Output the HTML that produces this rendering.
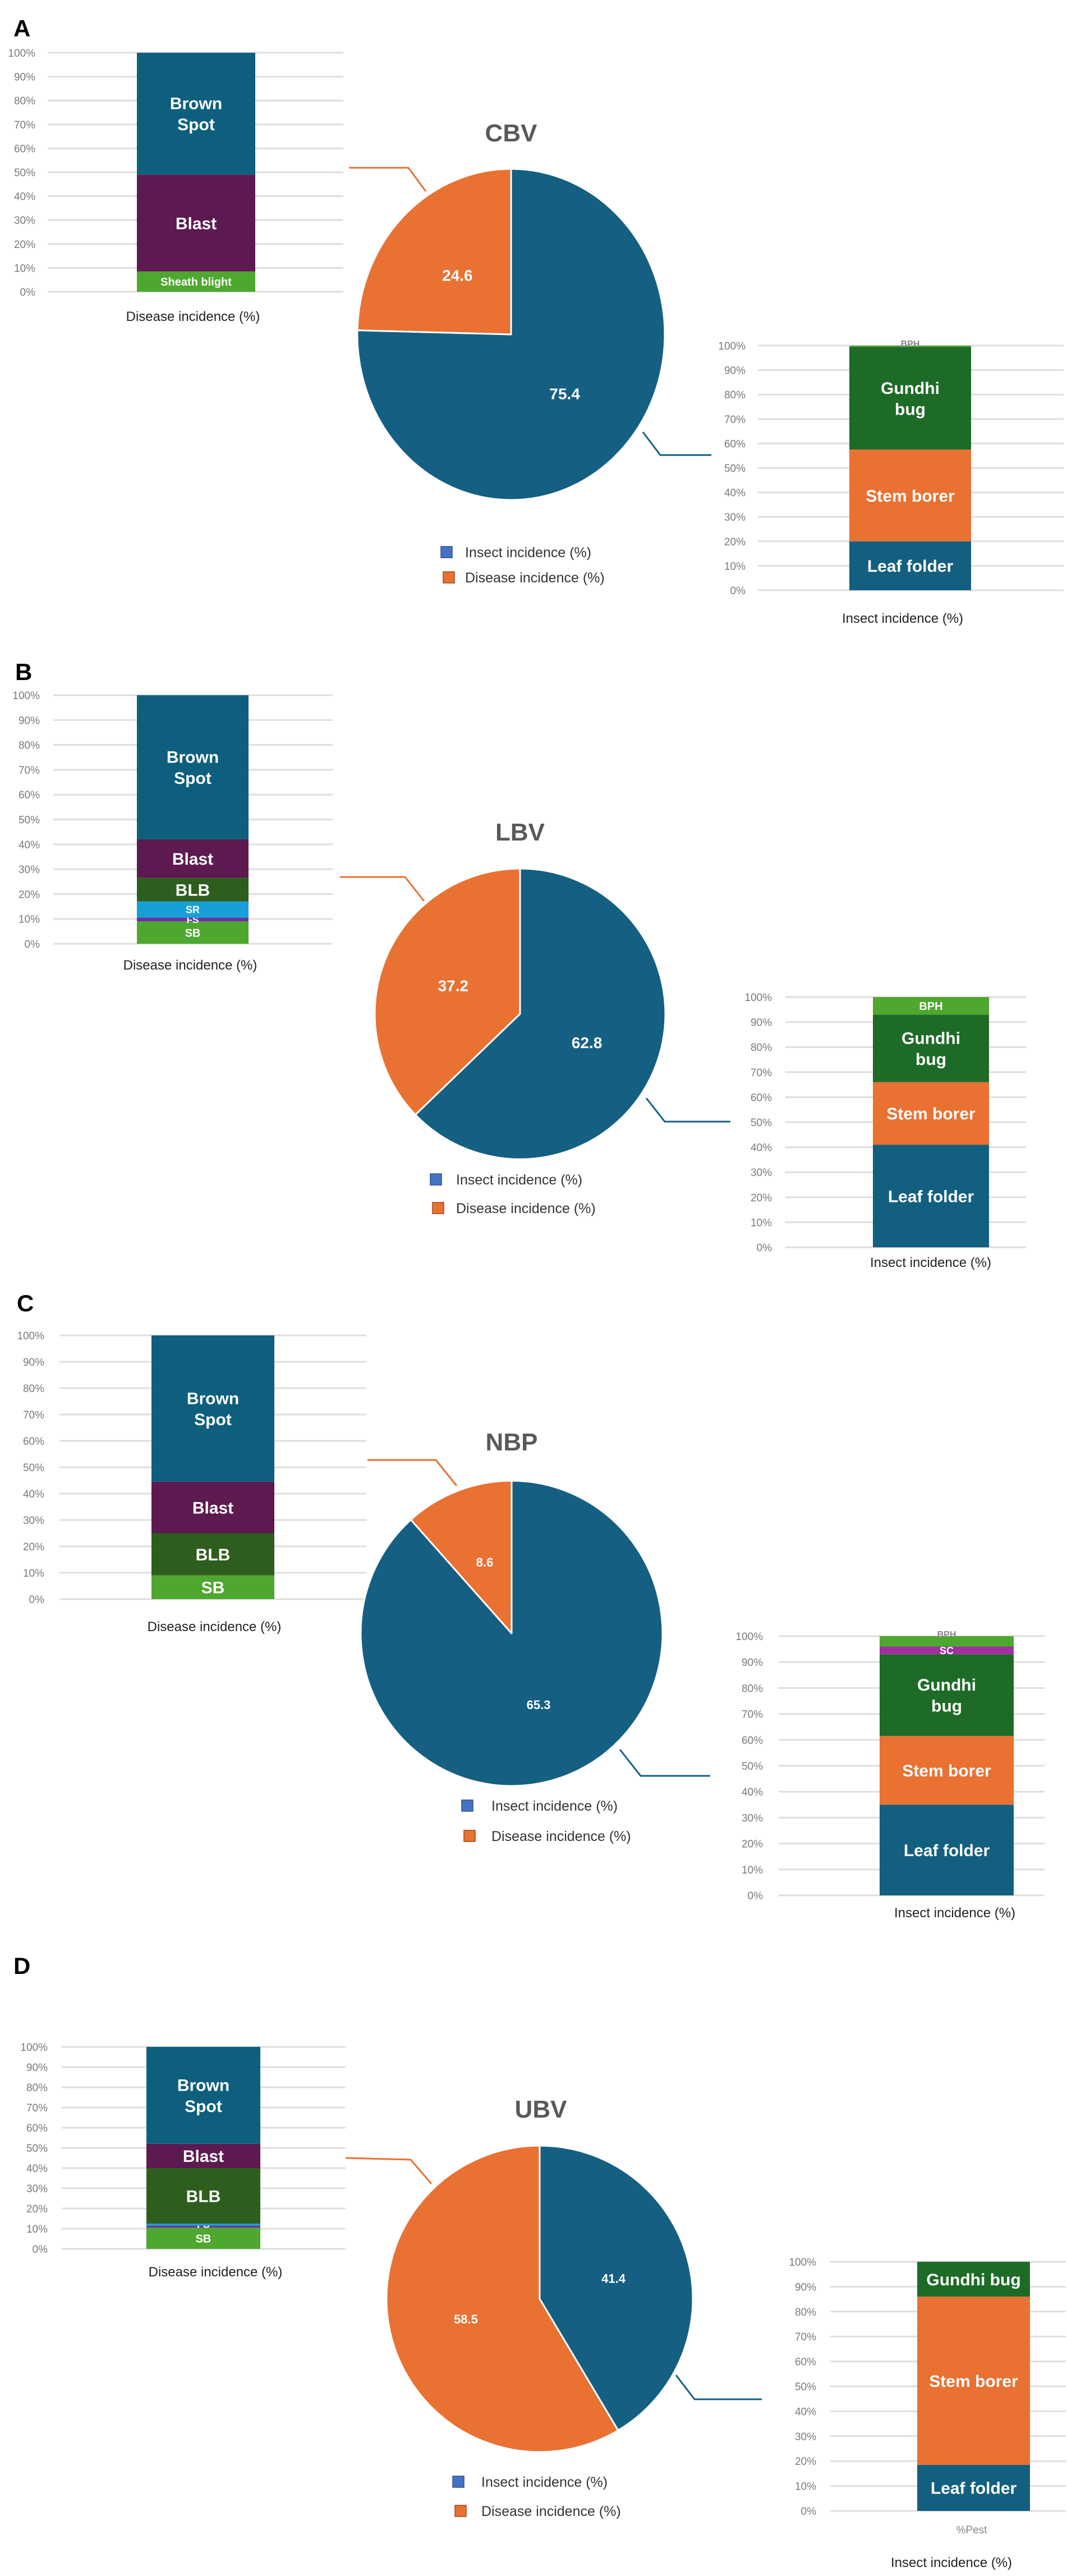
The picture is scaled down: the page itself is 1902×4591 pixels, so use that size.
<!DOCTYPE html>
<html><head><meta charset="utf-8"><style>
html,body{margin:0;padding:0;background:#fff;}
svg{display:block;font-family:"Liberation Sans",sans-serif;}
</style></head>
<body>
<svg id="fig" width="1902" height="4591" viewBox="0 0 1902 4591" xmlns="http://www.w3.org/2000/svg"></svg>
<script>
// ---------- data ----------
const panelLetters = ["A","B","C","D"];
const pieTitles = ["CBV","LBV","NBP","UBV"];
const insectPie = [75.4, 62.8, 65.3, 41.4];
const diseasePie = [24.6, 37.2, 8.6, 58.5];

const diseaseCatsA = ["Sheath blight","Blast","Brown Spot"];
const diseaseValsA = [8.5, 40.5, 51];
const diseaseCatsB = ["SB","FS","SR","BLB","Blast","Brown Spot"];
const diseaseValsB = [9, 1.5, 6.5, 9.5, 15.5, 58];
const diseaseCatsC = ["SB","BLB","Blast","Brown Spot"];
const diseaseValsC = [9, 16, 19.5, 55.5];
const diseaseCatsD = ["SB","FS","SR","BLB","Blast","Brown Spot"];
const diseaseValsD = [10.5, 1, 1, 27.5, 12, 48];

const insectCatsA = ["Leaf folder","Stem borer","Gundhi bug","BPH"];
const insectValsA = [20, 37.5, 42, 0.5];
const insectCatsB = ["Leaf folder","Stem borer","Gundhi bug","BPH"];
const insectValsB = [41, 25, 27, 7];
const insectCatsC = ["Leaf folder","Stem borer","Gundhi bug","SC","BPH"];
const insectValsC = [35, 26.5, 31.5, 3, 4];
const insectCatsD = ["Leaf folder","Stem borer","Gundhi bug"];
const insectValsD = [18.5, 67.5, 14];

const tickLabels = ["0%","10%","20%","30%","40%","50%","60%","70%","80%","90%","100%"];

// ---------- layout ----------
const COLORS = {"Brown Spot":"#0e5f7e","Blast":"#5c1a50","Sheath blight":"#4ea72e","SB":"#4ea72e","FS":"#7030a0","SR":"#17a0d8","BLB":"#2e5e1e",
 "Leaf folder":"#135f80","Stem borer":"#e97132","Gundhi bug":"#1e6b27","BPH":"#4ea72e","SC":"#a02fa0"};
const panels = [
 {letter:[24,50], left:{gx0:85,gx1:612,y100:94,y0:520,bx0:244,bx1:455,tx:63,title:[344,572]},
  pie:{cx:911,cy:596,rx:274,ry:295,title:[911,252],fs:28}, lo:[[622,299],[728,299],[759,341]], lb:[[1146,770],[1177,811],[1268,811]],
  leg:[796,984,829,1029], right:{gx0:1351,gx1:1896,y100:616,y0:1052,bx0:1514,bx1:1731,tx:1329,title:[1609,1110]}},
 {letter:[27,1197], left:{gx0:95,gx1:593,y100:1239,y0:1682,bx0:244,bx1:443,tx:71,title:[339,1728]},
  pie:{cx:927,cy:1807,rx:259,ry:259,title:[927,1498],fs:28}, lo:[[606,1563],[722,1563],[756,1606]], lb:[[1152,1957],[1185,1999],[1302,1999]],
  leg:[777,2102,813,2153], right:{gx0:1400,gx1:1829,y100:1777,y0:2223,bx0:1556,bx1:1763,tx:1376,title:[1659,2258]}},
 {letter:[30,2322], left:{gx0:106,gx1:653,y100:2380,y0:2850,bx0:270,bx1:489,tx:79,title:[382,2907]},
  pie:{cx:912,cy:2911,rx:269,ry:272,title:[912,2585],fs:22}, lo:[[655,2602],[777,2602],[814,2648]], lb:[[1105,3118],[1142,3165],[1266,3165]],
  leg:[833,3218,876,3272], right:{gx0:1388,gx1:1862,y100:2916,y0:3378,bx0:1568,bx1:1807,tx:1360,title:[1702,3417]}},
 {letter:[24,3503], left:{gx0:110,gx1:616,y100:3648,y0:4008,bx0:261,bx1:464,tx:85,title:[384,4057]},
  pie:{cx:962,cy:4097,rx:273,ry:273,title:[964,3774],fs:22}, lo:[[616,3846],[732,3849],[769,3892]], lb:[[1205,4233],[1238,4276],[1358,4276]],
  leg:[817,4423,858,4475], right:{gx0:1480,gx1:1900,y100:4031,y0:4475,bx0:1635,bx1:1836,tx:1455,title:[1696,4575]}}
];
const diseaseCats=[diseaseCatsA,diseaseCatsB,diseaseCatsC,diseaseCatsD];
const diseaseVals=[diseaseValsA,diseaseValsB,diseaseValsC,diseaseValsD];
const insectCats=[insectCatsA,insectCatsB,insectCatsC,insectCatsD];
const insectVals=[insectValsA,insectValsB,insectValsC,insectValsD];

const NS="http://www.w3.org/2000/svg";
const svg=document.getElementById("fig");
function mk(tag,attrs,parent,text){const e=document.createElementNS(NS,tag);for(const k in attrs)e.setAttribute(k,attrs[k]);if(text!==undefined)e.textContent=text;(parent||svg).appendChild(e);return e;}

function stackedBar(g,L,cats,vals,titleText,isInsect,pi){
  const yS=v=>L.y0-(L.y100-L.y0)*(-v/100);
  for(let i=0;i<tickLabels.length;i++){
    const y=yS(i*10);
    const gl=mk("line",{x1:L.gx0,x2:L.gx1,y1:y,y2:y,stroke:"#dedede","stroke-width":3},g);
    
    
    const t=mk("text",{x:L.tx,y:y+7,"text-anchor":"end","font-size":19,fill:"#7a7a7a"},g,tickLabels[i]);
    
    
  }
  let acc=0;
  const cx=(L.bx0+L.bx1)/2;
  for(let i=0;i<cats.length;i++){
    const y1=yS(acc), y2=yS(acc+vals[i]);
    const r=mk("rect",{x:L.bx0,y:y2,width:L.bx1-L.bx0,height:Math.max(0.5,y1-y2),fill:COLORS[cats[i]]},g);
    
    
    const h=y1-y2, my=(y1+y2)/2;
    const c=cats[i];
    let lines=[c], fs=30, fill="#fff";
    if(c==="Brown Spot") lines=["Brown","Spot"];
    if(c==="Gundhi bug" && pi!==3) lines=["Gundhi","bug"];
    if(h<14){fs=16;}
    else if(h<40){fs=20;}
    let ty=my;
    if(c==="BPH" && h<20){fill="#888";fs=16;ty=y2-4;}
    if(c==="SC"){fs=18;}
    if(pi===3 && !isInsect){ if(c==="SR"){ty=y2-12;fs=18;} if(c==="FS"){ty=y1-6;fs=18;} }
    if(pi===1 && !isInsect){ if(c==="FS"){fs=17;} if(c==="SR"){fs=18;} }
    const lh=fs*1.25;
    lines.forEach((ln,k)=>{
      const yy=ty+(k-(lines.length-1)/2)*lh+fs*0.36;
      const t=mk("text",{x:cx,y:yy,"text-anchor":"middle","font-size":fs,"font-weight":"bold",fill:fill},g,ln);
      
      
    });
    acc+=vals[i];
  }
  const tt=mk("text",{x:L.title[0],y:L.title[1],"text-anchor":"middle","font-size":24,fill:"#222"},g,titleText);
  
  
}

function pie(g,P,ins,dis,title){
  const tot=ins+dis;
  const pt=(f,r)=>[P.cx+P.rx*r*Math.sin(f*2*Math.PI),P.cy-P.ry*r*Math.cos(f*2*Math.PI)];
  const fi=ins/tot;
  const slices=[[0,fi,"#155f82","insect-slice",ins],[fi,1,"#e97132","disease-slice",dis]];
  slices.forEach(s=>{
    const a=pt(s[0],1), b=pt(s[1],1), large=(s[1]-s[0])>0.5?1:0;
    const p=mk("path",{d:`M${P.cx},${P.cy} L${a[0]},${a[1]} A${P.rx},${P.ry} 0 ${large} 1 ${b[0]},${b[1]} Z`,fill:s[2],stroke:"#fff","stroke-width":3,"stroke-linejoin":"round"},g);
    
    
  });
  slices.forEach(s=>{
    const m=pt((s[0]+s[1])/2,0.5);
    const t=mk("text",{x:m[0],y:m[1]+P.fs*0.36,"text-anchor":"middle","font-size":P.fs,"font-weight":"bold",fill:"#fff"},g,s[4].toFixed(1));
    
    
  });
  const tt=mk("text",{x:P.title[0],y:P.title[1],"text-anchor":"middle","font-size":44,"font-weight":"bold",fill:"#595959"},g,title);
  
  
}

panels.forEach((p,i)=>{
  const g=mk("g",{});
  
  
  const lt=mk("text",{x:p.letter[0],y:p.letter[1]+15,"font-size":42,"font-weight":"bold",fill:"#000"},g,panelLetters[i]);
  
  
  const gl=mk("g",{},g);
  
  
  stackedBar(gl,p.left,diseaseCats[i],diseaseVals[i],"Disease incidence (%)",false,i);
  const gr=mk("g",{},g);
  
  
  stackedBar(gr,p.right,insectCats[i],insectVals[i],"Insect incidence (%)",true,i);
  const gp=mk("g",{},g);
  
  
  pie(gp,p.pie,insectPie[i],diseasePie[i],pieTitles[i]);
  const l1=mk("polyline",{points:p.lo.map(q=>q.join(",")).join(" "),fill:"none",stroke:"#e97132","stroke-width":3},g);
  
  
  const l2=mk("polyline",{points:p.lb.map(q=>q.join(",")).join(" "),fill:"none",stroke:"#155f82","stroke-width":3},g);
  
  
  const [sx,y1,tx,y2]=p.leg;
  const s1=mk("rect",{x:sx-10,y:y1-10,width:20,height:20,fill:"#4472c4",stroke:"#2f528f","stroke-width":1.5},g);
  
  
  const t1=mk("text",{x:tx,y:y1+9,"font-size":25,fill:"#333"},g,"Insect incidence (%)");
  
  
  const s2=mk("rect",{x:sx-6,y:y2-10,width:20,height:20,fill:"#e97132",stroke:"#9c4a1e","stroke-width":1.5},g);
  
  
  const t2=mk("text",{x:tx,y:y2+9,"font-size":25,fill:"#333"},g,"Disease incidence (%)");
  
  
});
const pest=mk("text",{x:1732,y:4515,"text-anchor":"middle","font-size":19,fill:"#888"},svg,"%Pest");


</script>
</body></html>
